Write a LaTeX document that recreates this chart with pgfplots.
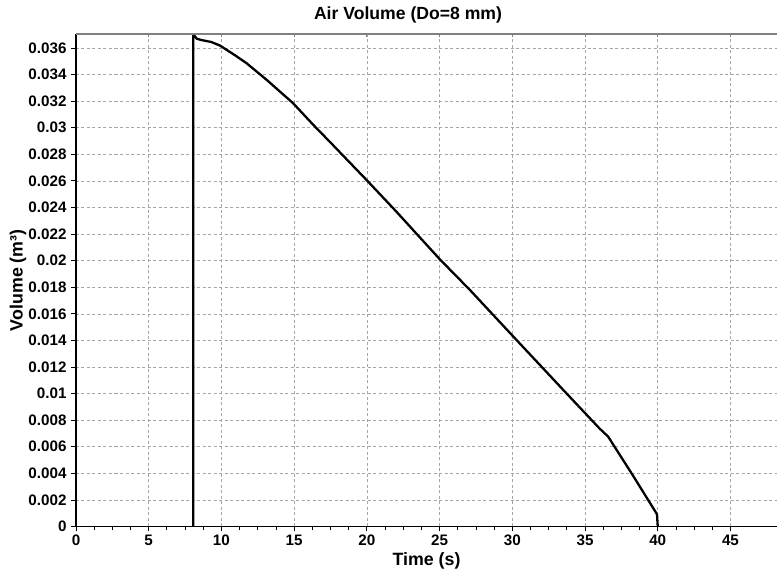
\documentclass[border=0pt]{standalone}
\usepackage{fontspec}
\setmainfont{Liberation Sans}
\usepackage{pgfplots}
\pgfplotsset{compat=1.18}
\begin{document}
\begin{tikzpicture}
\begin{axis}[
  scale only axis, width=701pt, height=492.5pt,
  xmin=0, xmax=48.2, ymin=0, ymax=0.03705,
  axis x line*=bottom, axis y line*=left,
  axis line style={line width=1.6pt, -},
  xtick={0,5,10,15,20,25,30,35,40,45},
  ytick={0,0.002,0.004,0.006,0.008,0.01,0.012,0.014,0.016,0.018,0.02,0.022,0.024,0.026,0.028,0.03,0.032,0.034,0.036},
  minor x tick num=3,
  tick align=outside,
  major tick length=5pt, minor tick length=4pt,
  tick style={black, line width=0.8pt},
  xmajorgrids, ymajorgrids,
  major grid style={dash pattern=on 3pt off 2.5pt, gray!70, line width=0.6pt},
  scaled y ticks=false,
  yticklabel style={/pgf/number format/fixed, /pgf/number format/precision=3, xshift=-1pt},
  /pgf/number format/assume math mode=true,
  ticklabel style={font=\fontsize{15.2}{17}\selectfont\bfseries},
  xlabel={Time (s)}, ylabel={Volume (m³)},
  label style={font=\fontsize{17.8}{20}\selectfont\bfseries},
  x label style={at={(axis description cs:0.5,0)}, anchor=center, yshift=-34pt},
  y label style={at={(axis description cs:-0.0827,0.5)}, anchor=center},
  title={Air Volume (Do=8 mm)},
  title style={font=\fontsize{17.6}{20}\selectfont\bfseries, at={(axis description cs:0.4736,1)}, anchor=center, yshift=13pt},
]
\addplot[black, line width=2.3pt] coordinates {
(8.06,0) (8.06,0.03704) (8.3,0.0367) (8.6,0.03660) (9.3,0.03645) (9.9,0.03618)
(11.0,0.03540) (11.73,0.03485) (13.11,0.03360) (14.93,0.03184) (16.31,0.03022)
(17.46,0.02893) (20.02,0.02602) (22.0,0.02372) (25.0,0.02012) (27.08,0.01780)
(30.29,0.01403) (33.72,0.01002) (36.01,0.00736) (36.59,0.00676) (38.2,0.00400)
(39.82,0.00115) (39.95,0.0009) (40.0,0)
};
\draw[gray, line width=1.2pt] (rel axis cs:0,1) -- (rel axis cs:1,1);
\pgfplotsinvokeforeach{5,10,15,20,25,30,35,40,45}{
  \draw[gray, line width=0.8pt] (axis cs:#1,0.03705) -- ++(0,-3pt);
}
\coordinate (sw) at (rel axis cs:0,0);
\end{axis}
\pgfresetboundingbox
\useasboundingbox ([xshift=-76pt,yshift=-48.5pt]sw) rectangle ++(777pt,575pt);
\end{tikzpicture}
\end{document}
